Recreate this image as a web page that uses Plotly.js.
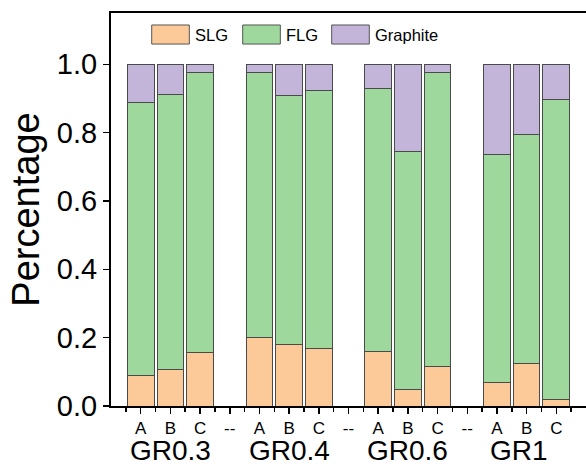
<!DOCTYPE html>
<html>
<head>
<meta charset="utf-8">
<script src="https://cdn.plot.ly/plotly-3.0.1.min.js"></script>
<style>html,body{margin:0;padding:0;background:#fff;}#chart{width:586px;height:467px;}</style>
</head>
<body>
<div id="chart"></div>
<script>
// Category tick labels (the "--" entries are empty separators between groups)
const tickLabels = ["A","B","C","--","A","B","C","--","A","B","C","--","A","B","C"];
const groupLabels = ["GR0.3","GR0.4","GR0.6","GR1"];
const seriesNames = ["SLG","FLG","Graphite"];
const seriesColors = ["#FCCA98","#9ED89C","#C3B4D9"];

const slg      = [0.088,0.108,0.156,null,0.200,0.181,0.168,null,0.159,0.047,0.115,null,0.070,0.124,0.019];
const flg      = [0.800,0.803,0.821,null,0.777,0.728,0.756,null,0.770,0.697,0.862,null,0.666,0.671,0.878];
const graphite = [0.112,0.089,0.023,null,0.023,0.091,0.076,null,0.071,0.256,0.023,null,0.264,0.205,0.103];

const xs = tickLabels.map((_, i) => i);
const seriesValues = [slg, flg, graphite];

const traces = seriesValues.map((vals, k) => ({
  type: 'bar',
  x: xs,
  y: vals,
  name: seriesNames[k],
  width: 0.9,
  marker: {color: seriesColors[k], line: {color: '#4a4a4a', width: 1}},
  showlegend: false,
  hoverinfo: 'skip'
}));

const FONT = 'Liberation Sans, Arial, sans-serif';

// Group labels under each A-B-C triple
const annotations = groupLabels.map((g, i) => ({
  text: g, x: 4 * i + 1, xref: 'x', y: -0.068, yref: 'paper',
  xanchor: 'center', yanchor: 'top', showarrow: false,
  xshift: i === 3 ? -8 : 0,
  font: {family: FONT, size: 28, color: '#000'}
}));

// Custom legend (wide swatches like the reference)
const legX = [0.0857, 0.2773, 0.4646];
const swW = 0.0792;
const shapes = [];
seriesNames.forEach((n, k) => {
  shapes.push({type: 'rect', xref: 'paper', yref: 'paper',
    x0: legX[k], x1: legX[k] + swW, y0: 0.921, y1: 0.9695,
    fillcolor: seriesColors[k], line: {color: '#555', width: 1}});
  annotations.push({text: n, xref: 'paper', yref: 'paper',
    x: legX[k] + swW + 0.008, y: 0.945, xanchor: 'left', yanchor: 'middle',
    showarrow: false, font: {family: FONT, size: 16.5, color: '#000'}});
});

const layout = {
  width: 586, height: 467,
  margin: {l: 111, r: 0, t: 13, b: 61},
  paper_bgcolor: '#fff', plot_bgcolor: '#fff',
  barmode: 'stack', bargap: 0,
  font: {family: FONT, color: '#000'},
  xaxis: {
    range: [-1, 15], tickmode: 'array', tickvals: xs, ticktext: tickLabels,
    ticks: 'outside', ticklen: 6, tickwidth: 1.5, tickcolor: '#000',
    showline: true, linecolor: '#000', linewidth: 2, mirror: true,
    showgrid: false, zeroline: false,
    tickfont: {family: FONT, size: 17, color: '#000'},
    minor: {tick0: 0.5, dtick: 1, ticks: 'outside', ticklen: 4, tickwidth: 1.5, tickcolor: '#000', showgrid: false}
  },
  yaxis: {
    range: [0, 1.15], tickmode: 'array', tickvals: [0, 0.2, 0.4, 0.6, 0.8, 1.0],
    ticktext: ["0.0","0.2","0.4","0.6","0.8","1.0"],
    ticks: 'outside', ticklen: 6, tickwidth: 1.5, tickcolor: '#000',
    showline: true, linecolor: '#000', linewidth: 2, mirror: true,
    showgrid: false, zeroline: false,
    tickfont: {family: FONT, size: 29, color: '#000'},
    title: {text: 'Percentage', font: {family: FONT, size: 38, color: '#000'}, standoff: 6}
  },
  shapes: shapes,
  annotations: annotations
};

Plotly.newPlot('chart', traces, layout, {staticPlot: true, displayModeBar: false});
</script>
</body>
</html>
